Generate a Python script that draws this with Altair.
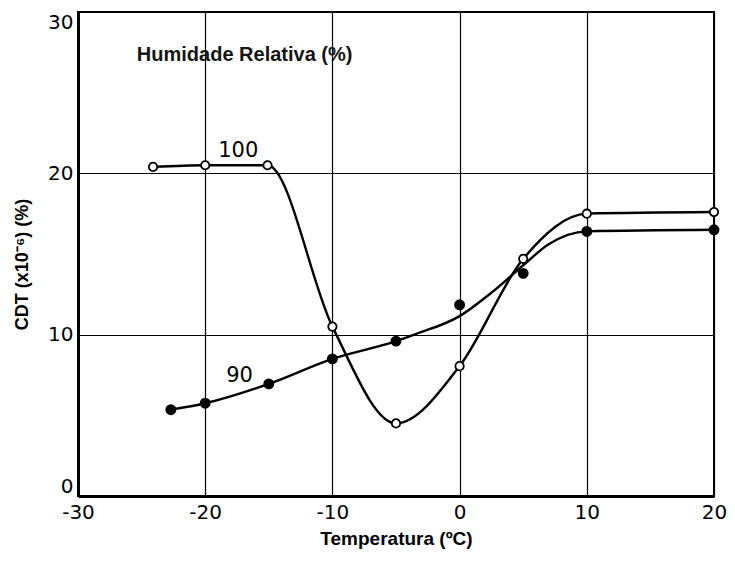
import altair as alt
import pandas as pd

# Relative humidity 100 % (open circles) – the curve passes through the points
temp_100 = [-24.1, -20, -15.1, -10, -5, 0, 5, 10, 20]
cdt_100 = [20.4, 20.5, 20.5, 10.5, 4.5, 8.05, 14.7, 17.5, 17.6]

# Relative humidity 90 % (filled circles, measured points)
temp_90 = [-22.7, -20, -15, -10, -5, 0, 5, 10, 20]
cdt_90 = [5.35, 5.75, 6.95, 8.5, 9.6, 11.85, 13.8, 16.4, 16.5]

# Relative humidity 90 %: hand-drawn fitted curve
curve90_t = [-22.7, -20, -15, -10, -5, -3.4, 0, 2.5, 5, 7, 10, 20]
curve90_v = [5.35, 5.75, 6.95, 8.5, 9.6, 10.05, 11.15, 12.6, 14.3, 15.6, 16.4, 16.5]

labels_text = ["100", "90"]
labels_x = [-17.4, -17.3]
labels_y = [21.4, 7.45]

heading_text = ["Humidade Relativa (%)"]
heading_x = [-16.9]
heading_y = [27.35]

df100 = pd.DataFrame({"t": temp_100, "cdt": cdt_100})
df90 = pd.DataFrame({"t": temp_90, "cdt": cdt_90})
dfc90 = pd.DataFrame({"t": curve90_t, "cdt": curve90_v})
dflab = pd.DataFrame({"t": labels_x, "cdt": labels_y, "txt": labels_text})
dfhead = pd.DataFrame({"t": heading_x, "cdt": heading_y, "txt": heading_text})

FONT = "DejaVu Sans"
TFONT = "Liberation Sans"

x = alt.X("t:Q", scale=alt.Scale(domain=[-30, 20], nice=False),
          axis=alt.Axis(values=[-30, -20, -10, 0, 10, 20], title="Temperatura (ºC)",
                        grid=True, labelFlush=False,
                        labelExpr="datum.value < 0 ? '-' + abs(datum.value) : '' + datum.value"))
y = alt.Y("cdt:Q", scale=alt.Scale(domain=[0, 30], nice=False),
          axis=alt.Axis(values=[0, 10, 20, 30], title="CDT (x10⁻⁶) (%)", grid=True,
                        labelFlush=True, titleY=252))

line100 = alt.Chart(df100).mark_line(color="black", strokeWidth=2.4,
                                     interpolate="monotone").encode(x=x, y=y)
line90 = alt.Chart(dfc90).mark_line(color="black", strokeWidth=2.4,
                                    interpolate="monotone").encode(x=x, y=y)
pts100 = alt.Chart(df100).mark_point(shape="circle", filled=True, fill="white", stroke="black",
                                     strokeWidth=1.8, size=70, opacity=1).encode(x=x, y=y)
pts90 = alt.Chart(df90).mark_point(shape="circle", filled=True, fill="black", stroke="black",
                                   size=80, opacity=1).encode(x=x, y=y)

nums = alt.Chart(dflab).mark_text(font=FONT, fontSize=21, color="black",
                                  align="center", baseline="middle").encode(x=x, y=y, text="txt:N")
head = alt.Chart(dfhead).mark_text(font=TFONT, fontSize=20, fontWeight="bold",
                                   color="#151515", align="center",
                                   baseline="middle").encode(x=x, y=y, text="txt:N")

chart = alt.layer(line100, line90, pts100, pts90, nums, head).properties(
    width=636, height=484,
    autosize=alt.AutoSizeParams(type="none"),
    padding={"left": 70, "top": 4, "right": 13, "bottom": 58},
).configure_view(
    stroke="black", strokeWidth=2
).configure_axis(
    gridColor="black", gridWidth=1.2, gridOpacity=1,
    domainColor="black", domainWidth=3,
    tickSize=0, labelFont=FONT, labelFontSize=20, labelColor="black",
    titleFont=TFONT, titleFontWeight="bold", titleColor="black",
).configure_axisX(
    labelPadding=6, titlePadding=7, titleFontSize=19
).configure_axisY(
    labelPadding=5, titlePadding=16, titleFontSize=18
)

chart.save("out.html", embed_options={"renderer": "svg", "actions": False})
